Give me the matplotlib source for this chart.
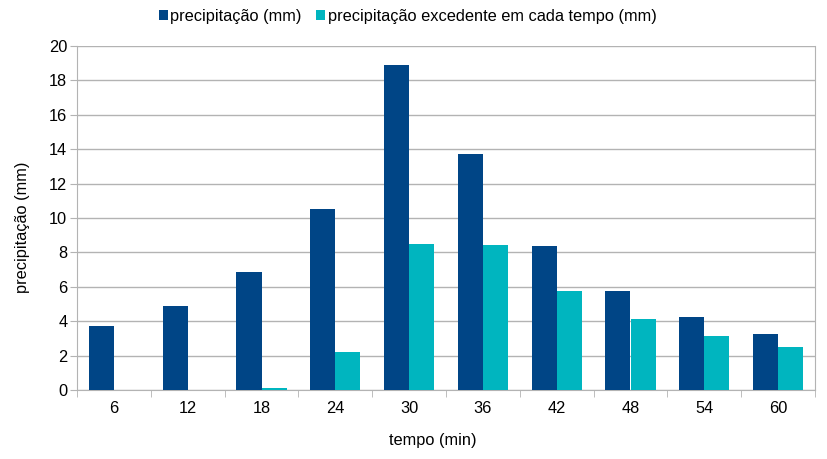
import matplotlib.pyplot as plt
import numpy as np

plt.rcParams['font.family'] = ['Liberation Sans', 'DejaVu Sans']

tempo = ['6', '12', '18', '24', '30', '36', '42', '48', '54', '60']
precip = [3.72, 4.88, 6.86, 10.52, 18.87, 13.74, 8.37, 5.74, 4.23, 3.27]
excedente = [0, 0, 0.1, 2.19, 8.51, 8.45, 5.76, 4.15, 3.14, 2.48]

fig = plt.figure(figsize=(8.28, 4.59), dpi=100)
ax = fig.add_axes([77 / 828, 69 / 459, 738 / 828, 344 / 459])

x = np.arange(len(tempo))
w = 0.34
ax.bar(x - w / 2, precip, w, color='#004586', label='precipitação (mm)', zorder=3)
ax.bar(x + w / 2, excedente, w, color='#00b5bf',
       label='precipitação excedente em cada tempo (mm)', zorder=3)

ax.set_xlim(-0.5, len(tempo) - 0.5)
ax.set_ylim(0, 20)
ax.set_yticks(range(0, 21, 2))
ax.set_xticks(x)
ax.set_xticklabels(tempo)
ax.set_xticks(np.arange(-0.5, len(tempo)), minor=True)
ax.tick_params(axis='x', which='major', length=0, labelsize=11.8, pad=8)
ax.tick_params(axis='x', which='minor', length=5, color='#b3b3b3')
ax.tick_params(axis='y', length=5, color='#b3b3b3', labelsize=11.8, pad=2)

ax.grid(axis='y', color='#b3b3b3', linewidth=1, zorder=0)
for s in ['left', 'bottom', 'right']:
    ax.spines[s].set_color('#b3b3b3')
ax.spines['top'].set_visible(False)

ax.set_xlabel('tempo (min)', fontsize=11.8)
ax.xaxis.set_label_coords(0.482, -0.125)
ax.set_ylabel('precipitação (mm)', fontsize=11.8)
ax.yaxis.set_label_coords(-0.064, 0.474)

ax.legend(loc='center', bbox_to_anchor=(0.448, 1.087), ncol=2, frameon=False,
          fontsize=11.8, handlelength=0.55, handleheight=0.55, handletextpad=0.15,
          columnspacing=0.9, borderpad=0)

fig.savefig('out.png', dpi=100)
